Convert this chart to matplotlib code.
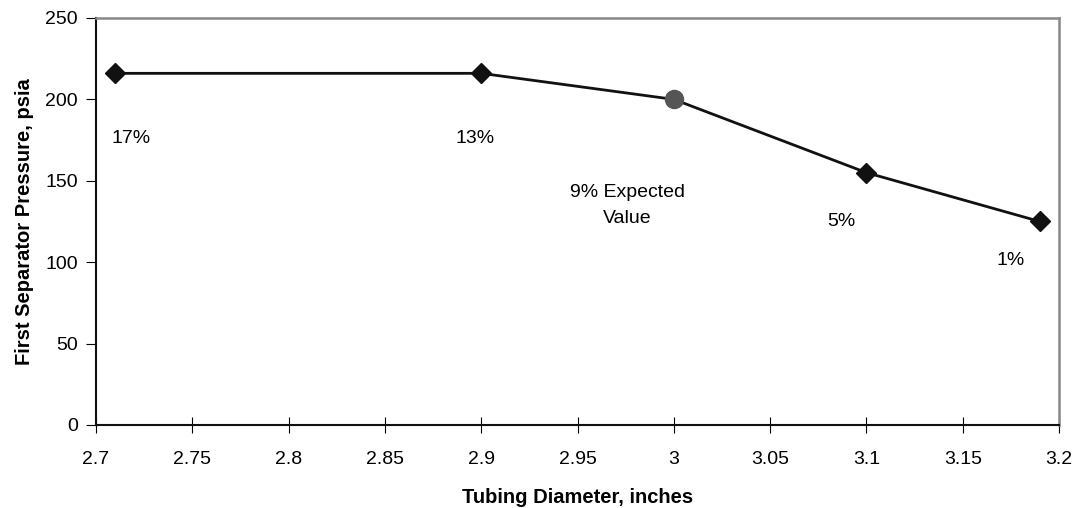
import matplotlib.pyplot as plt

plt.rcParams['font.family'] = ['Liberation Sans', 'DejaVu Sans']

diameter = [2.71, 2.9, 3.0, 3.1, 3.19]
pressure = [216, 216, 200, 155, 125]
labels = ["17%", "13%", "9% Expected\nValue", "5%", "1%"]
label_x = [2.718, 2.897, 2.976, 3.087, 3.175]
label_y = [176, 176, 135, 125, 101]
xticks = [2.7, 2.75, 2.8, 2.85, 2.9, 2.95, 3.0, 3.05, 3.1, 3.15, 3.2]
xticklabels = ["2.7", "2.75", "2.8", "2.85", "2.9", "2.95", "3", "3.05", "3.1", "3.15", "3.2"]
yticks = [0, 50, 100, 150, 200, 250]

fig = plt.figure(figsize=(10.79, 5.08), dpi=100)
ax = fig.add_axes([0.089, 0.1634, 0.8925, 0.8012])

ax.plot(diameter, pressure, color='#111111', lw=2.0, zorder=2)
for i, (x, y) in enumerate(zip(diameter, pressure)):
    if i == 2:
        ax.plot(x, y, 'o', color='#555555', ms=13, zorder=3)
    else:
        ax.plot(x, y, 'D', color='#111111', ms=10.5, zorder=3)

for t, x, y in zip(labels, label_x, label_y):
    ax.text(x, y, t, ha='center', va='center', fontsize=14, linespacing=1.7)

ax.set_xlim(2.7, 3.2)
ax.set_ylim(0, 250)
ax.set_xticks(xticks)
ax.set_xticklabels(xticklabels)
ax.set_yticks(yticks)
ax.tick_params(axis='x', direction='inout', length=12, labelsize=14, pad=13)
ax.tick_params(axis='y', direction='out', length=7, labelsize=14, pad=6)

for s in ['left', 'bottom']:
    ax.spines[s].set_color('#111111')
    ax.spines[s].set_linewidth(1.5)
for s in ['top', 'right']:
    ax.spines[s].set_color('#888888')
    ax.spines[s].set_linewidth(1.8)

ax.set_xlabel("Tubing Diameter, inches", fontsize=14.5, fontweight='bold', labelpad=14)
ax.set_ylabel("First Separator Pressure, psia", fontsize=14.5, fontweight='bold', labelpad=8)

fig.savefig("out.png", dpi=100)
